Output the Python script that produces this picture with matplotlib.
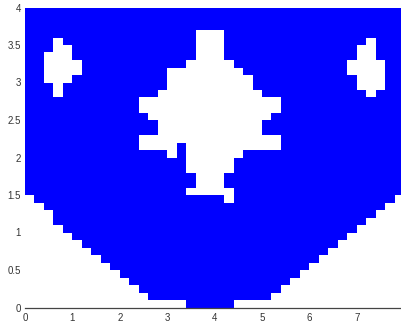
"""
Blue/white occupancy grid drawn as a flat pcolor mesh, MATLAB look:
only the bottom axis line, no tick marks, small grey tick labels.
"""

import numpy as np
import matplotlib
matplotlib.use("Agg")
import matplotlib.pyplot as plt
from matplotlib.colors import ListedColormap

# ---- data: one string per grid row, top row first ('#' = blue, '.' = white)
# each row is 40 cells of 0.2 (x) by 0.1 (y), written in chunks of ten
GRID_ROWS = [
    "##########" "##########" "##########" "##########",  # 3.9
    "##########" "##########" "##########" "##########",  # 3.8
    "##########" "##########" "##########" "##########",  # 3.7
    "##########" "########.." ".#########" "##########",  # 3.6
    "###.######" "########.." ".#########" "######.###",  # 3.5
    "###..#####" "########.." ".#########" "#####..###",  # 3.4
    "##...#####" "########.." ".#########" "#####..###",  # 3.3
    "##....####" "#######..." "..########" "####....##",  # 3.2
    "##....####" "#####....." "...#######" "####....##",  # 3.1
    "##...#####" "#####....." "....######" "#####...##",  # 3.0
    "###.######" "#####....." "....######" "#####...##",  # 2.9
    "###.######" "####......" ".....#####" "######.###",  # 2.8
    "##########" "##........" ".......###" "##########",  # 2.7
    "##########" "##........" ".......###" "##########",  # 2.6
    "##########" "###......." "......####" "##########",  # 2.5
    "##########" "####......" ".....#####" "##########",  # 2.4
    "##########" "####......" ".....#####" "##########",  # 2.3
    "##########" "##........" ".......###" "##########",  # 2.2
    "##########" "##....#..." ".......###" "##########",  # 2.1
    "##########" "#####.#..." "...#######" "##########",  # 2.0
    "##########" "#######..." "..########" "##########",  # 1.9
    "##########" "#######..." "..########" "##########",  # 1.8
    "##########" "########.." ".#########" "##########",  # 1.7
    "##########" "########.." ".#########" "##########",  # 1.6
    "##########" "#######..." "..########" "##########",  # 1.5
    ".#########" "##########" "#.########" "#########.",  # 1.4
    "..########" "##########" "##########" "########..",  # 1.3
    "...#######" "##########" "##########" "#######...",  # 1.2
    "...#######" "##########" "##########" "######....",  # 1.1
    "....######" "##########" "##########" "#####.....",  # 1.0
    ".....#####" "##########" "##########" "####......",  # 0.9
    "......####" "##########" "##########" "###.......",  # 0.8
    ".......###" "##########" "##########" "##........",  # 0.7
    "........##" "##########" "##########" "#.........",  # 0.6
    ".........#" "##########" "##########" "..........",  # 0.5
    ".........." "##########" "#########." "..........",  # 0.4
    ".........." ".#########" "########.." "..........",  # 0.3
    ".........." "..########" "#######..." "..........",  # 0.2
    ".........." "...#######" "######...." "..........",  # 0.1
    ".........." ".......###" "##........" "..........",  # 0.0
]
CELL_W = 0.2
CELL_H = 0.1

X_TICKS = [0, 1, 2, 3, 4, 5, 6, 7]
X_TICK_LABELS = ["0", "1", "2", "3", "4", "5", "6", "7"]
Y_TICKS = [0, 0.5, 1, 1.5, 2, 2.5, 3, 3.5, 4]
Y_TICK_LABELS = ["0", "0.5", "1", "1.5", "2", "2.5", "3", "3.5", "4"]

plt.rcParams["font.family"] = ["Liberation Sans", "DejaVu Sans"]

mask = np.array([[c == "#" for c in row] for row in GRID_ROWS[::-1]],
                dtype=float)
n_rows, n_cols = mask.shape
x_edges = np.arange(n_cols + 1) * CELL_W
y_edges = np.arange(n_rows + 1) * CELL_H

fig = plt.figure(figsize=(4.01, 3.22), dpi=100)
ax = fig.add_axes([25 / 401, 14.5 / 322, 376 / 401, 300 / 322])

ax.pcolormesh(x_edges, y_edges, mask,
              cmap=ListedColormap(["#ffffff", "#0000ff"]),
              vmin=0, vmax=1, shading="flat", edgecolors="none")

ax.set_xlim(0, 376 / 47.4)
ax.set_ylim(0, 4)
ax.set_xticks(X_TICKS, X_TICK_LABELS)
ax.set_yticks(Y_TICKS, Y_TICK_LABELS)
ax.tick_params(length=0, labelsize=7, colors="#333333")
ax.tick_params(axis="x", pad=4)
ax.tick_params(axis="y", pad=3)

for side in ("left", "top", "right"):
    ax.spines[side].set_visible(False)
ax.spines["bottom"].set_color("#444444")
ax.spines["bottom"].set_linewidth(0.9)

fig.savefig("out.png", dpi=100)
